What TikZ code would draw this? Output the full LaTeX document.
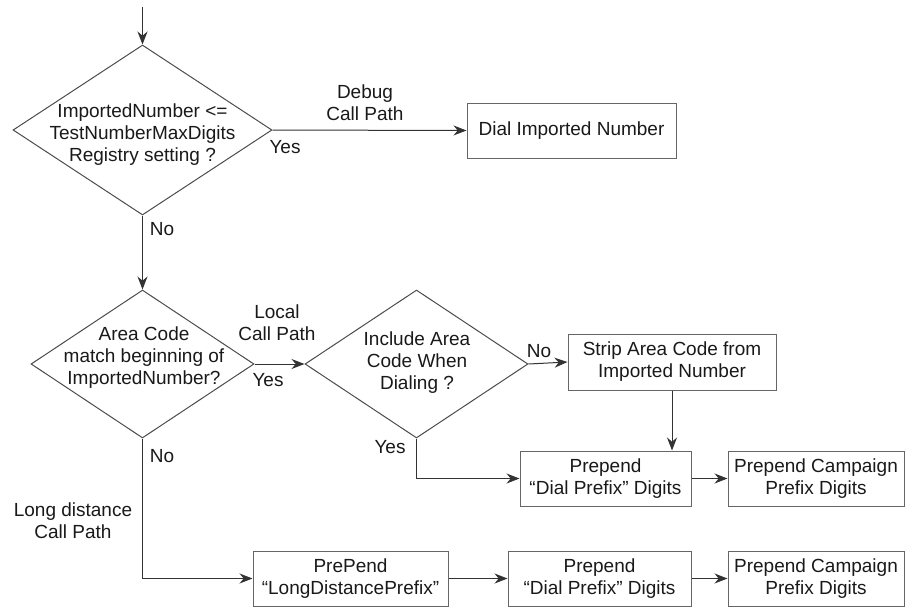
\documentclass[tikz,border=0pt]{standalone}
\usepackage{fontspec}
\setmainfont{Liberation Sans}
\usetikzlibrary{shapes.geometric,arrows.meta}
\begin{document}
\begin{tikzpicture}[x=1pt,y=-1pt,
  every node/.style={font=\fontsize{19}{22}\selectfont, text=black!90},
  dia/.style={diamond, draw=black!70, line width=1pt, inner sep=0pt},
  box/.style={rectangle, draw=black!60, line width=1pt, align=center, inner sep=0pt, minimum height=55pt},
  txt/.style={align=center, inner sep=0pt},
  arr/.style={draw=black!80, line width=1pt, -{Stealth[length=13pt,width=10pt]}}
]
\useasboundingbox (0,0) rectangle (917,608);
\coordinate (start) at (142.5,7);
% decisions
\node[dia, minimum width=259pt, minimum height=170pt] (d1) at (142.5,130) {};
\node[txt] (d1t) at (142.5,135) {ImportedNumber <=\\TestNumberMaxDigits\\Registry setting ?};
\node[dia, minimum width=223pt, minimum height=148pt] (d2) at (142.5,364) {};
\node[txt] (d2t) at (144,358) {Area Code\\match beginning of\\ImportedNumber?};
\node[dia, minimum width=223pt, minimum height=148pt] (d3) at (416.5,364) {};
\node[txt] (d3t) at (417,363) {Include Area\\Code When\\Dialing ?};
% boxes
\node[box, minimum width=209pt] (dial) at (571.5,130.5) {Dial Imported Number};
\node[box, minimum width=208pt, minimum height=56pt] (strip) at (672,362) {Strip Area Code from\\Imported Number};
\node[box, minimum width=171pt] (p1) at (605.5,478.5) {Prepend\\``Dial Prefix'' Digits};
\node[box, minimum width=176pt] (c1) at (816,478.5) {Prepend Campaign\\Prefix Digits};
\node[box, minimum width=195pt] (ld) at (350.5,578.5) {PrePend\\``LongDistancePrefix''};
\node[box, minimum width=183pt] (p2) at (599.5,578.5) {Prepend\\``Dial Prefix'' Digits};
\node[box, minimum width=176pt] (c2) at (816,578.5) {Prepend Campaign\\Prefix Digits};
% labels
\node[txt] (l1) at (365,103) {Debug\\Call Path};
\node[txt] (l2) at (285,147) {Yes};
\node[txt] (l3) at (162,229) {No};
\node[txt] (l4) at (277,323) {Local\\Call Path};
\node[txt] (l5) at (268,380) {Yes};
\node[txt] (l6) at (539,351) {No};
\node[txt] (l7) at (390,447) {Yes};
\node[txt] (l8) at (162,456) {No};
\node[txt] (l9) at (73,521) {Long distance\\Call Path};
% connectors
\draw[arr] (start) -- (d1.north);
\draw[arr] (d1.east) -- (dial.west);
\draw[arr] (d1.south) -- (d2.north);
\draw[arr] (d2.east) -- (d3.west);
\draw[arr] (d3.east) -- (strip.west);
\draw[arr] (strip.south) -- (strip.south |- p1.north);
\draw[arr] (d3.south) |- (p1.west);
\draw[arr] (p1.east) -- (c1.west);
\draw[arr] (d2.south) |- (ld.west);
\draw[arr] (ld.east) -- (p2.west);
\draw[arr] (p2.east) -- (c2.west);
\end{tikzpicture}
\end{document}
